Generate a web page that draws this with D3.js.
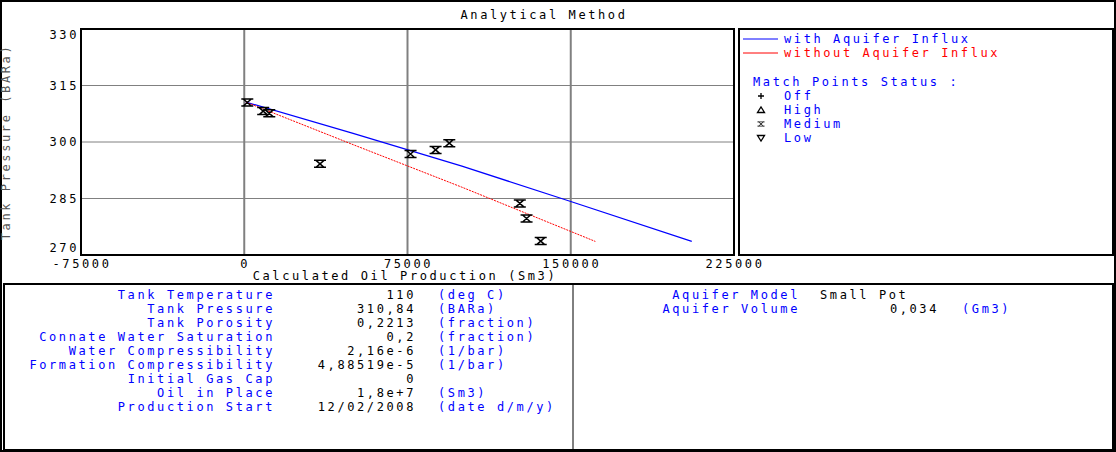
<!DOCTYPE html>
<html lang="en">
<head>
<meta charset="UTF-8">
<title>Analytical Method</title>
<script src="https://d3js.org/d3.v7.min.js"></script>
<style>
  body { margin: 0; background: #fff; }
  text { font-family: "DejaVu Sans Mono", monospace; font-size: 12px; letter-spacing: 2.6px; }
</style>
</head>
<body>
<div id="chart"></div>
<script>
// Match points (Sm3, BARa)
const pointProd = [1400, 8700, 11500, 34800, 76400, 87900, 94200, 126600, 129700, 136200];
const pointPres = [310.5, 308.2, 307.6, 294.2, 296.8, 297.9, 299.7, 283.7, 279.7, 273.7];
// Simulated curves
const withProd = [700, 50000, 100000, 150000, 205600];
const withPres = [310.6, 302.3, 293.6, 284.2, 273.6];
const withoutProd = [700, 50000, 100000, 161300];
const withoutPres = [310.6, 299.3, 288.0, 273.6];
const xTicks = [-75000, 0, 75000, 150000, 225000];
const yTicks = [270, 285, 300, 315, 330];

const params = [
  ["Tank Temperature", "110", "(deg C)"],
  ["Tank Pressure", "310,84", "(BARa)"],
  ["Tank Porosity", "0,2213", "(fraction)"],
  ["Connate Water Saturation", "0,2", "(fraction)"],
  ["Water Compressibility", "2,16e-6", "(1/bar)"],
  ["Formation Compressibility", "4,88519e-5", "(1/bar)"],
  ["Initial Gas Cap", "0", ""],
  ["Oil in Place", "1,8e+7", "(Sm3)"],
  ["Production Start", "12/02/2008", "(date d/m/y)"]
];
const statusNames = ["Off", "High", "Medium", "Low"];

const W = 1116, H = 452;
const svg = d3.select("#chart").append("svg").attr("width", W).attr("height", H);
svg.append("rect").attr("x", 1).attr("y", 1).attr("width", W - 2).attr("height", H - 2)
  .attr("fill", "none").attr("stroke", "#000").attr("stroke-width", 2);

svg.append("text").attr("x", 544).attr("y", 19).attr("text-anchor", "middle").text("Analytical Method");

const plot = { left: 81, right: 734, top: 29, bottom: 255 };
const x = d3.scaleLinear().domain([-75000, 225000]).range([plot.left, plot.right]);
const y = d3.scaleLinear().domain([270, 330]).range([plot.bottom, plot.top]);

// grid
svg.append("g").selectAll("line").data(xTicks.slice(1, -1)).enter().append("line")
  .attr("x1", d => x(d)).attr("x2", d => x(d)).attr("y1", plot.top).attr("y2", plot.bottom)
  .attr("stroke", "#808080").attr("stroke-width", 2);
svg.append("g").selectAll("line").data(yTicks.slice(1, -1)).enter().append("line")
  .attr("x1", plot.left).attr("x2", plot.right).attr("y1", d => y(d)).attr("y2", d => y(d))
  .attr("stroke", "#808080").attr("stroke-width", 1);
svg.append("rect").attr("x", plot.left).attr("y", plot.top)
  .attr("width", plot.right - plot.left).attr("height", plot.bottom - plot.top)
  .attr("fill", "none").attr("stroke", "#000").attr("stroke-width", 2);

// tick labels
svg.append("g").selectAll("text").data(xTicks).enter().append("text")
  .attr("x", d => x(d) + 1).attr("y", 268).attr("text-anchor", "middle").text(d => d);
svg.append("g").selectAll("text").data(yTicks).enter().append("text")
  .attr("x", 79).attr("y", d => y(d) + (d === 330 ? 10 : d === 270 ? -3 : 4))
  .attr("text-anchor", "end").text(d => d);

svg.append("text").attr("x", 405).attr("y", 280).attr("text-anchor", "middle").text("Calculated Oil Production (Sm3)");
svg.append("text").attr("transform", "translate(10,142) rotate(-90)").attr("text-anchor", "middle")
  .attr("fill", "#555").text("Tank Pressure (BARa)");

// curves
const line = d3.line().x(d => x(d[0])).y(d => y(d[1]));
svg.append("path").datum(d3.zip(withProd, withPres)).attr("d", line)
  .attr("fill", "none").attr("stroke", "#0000ff").attr("stroke-width", 1.2);
svg.append("path").datum(d3.zip(withoutProd, withoutPres)).attr("d", line)
  .attr("fill", "none").attr("stroke", "#ff0000").attr("stroke-width", 1).attr("stroke-dasharray", "2,1");

// match point markers (medium)
const marker = "M-6,-3.5H6M-6,3.5H6M-4,-3.5L4,3.5M4,-3.5L-4,3.5";
svg.append("g").selectAll("path").data(d3.zip(pointProd, pointPres)).enter().append("path")
  .attr("transform", d => `translate(${x(d[0])},${y(d[1])})`).attr("d", marker)
  .attr("stroke", "#000").attr("stroke-width", 1.5).attr("fill", "none");

// legend
svg.append("rect").attr("x", 739).attr("y", 29).attr("width", 374).attr("height", 226)
  .attr("fill", "none").attr("stroke", "#000").attr("stroke-width", 2);
[["with Aquifer Influx", "#0000ff", 39], ["without Aquifer Influx", "#ff0000", 53]].forEach(([t, c, yy]) => {
  svg.append("line").attr("x1", 743).attr("x2", 778).attr("y1", yy).attr("y2", yy).attr("stroke", c);
  svg.append("text").attr("x", 784).attr("y", yy + 4).attr("fill", c).text(t);
});
svg.append("text").attr("x", 753).attr("y", 86).attr("fill", "#0000ff").text("Match Points Status :");
const symbols = [
  "M-3,0H3M0,-3V3",
  "M-3.5,2.5H3.5L0,-3Z",
  marker,
  "M-3.5,-2.5H3.5L0,3Z"
];
statusNames.forEach((s, i) => {
  const yy = 96 + i * 14;
  svg.append("path").attr("transform", `translate(761,${yy})scale(${i === 2 ? 0.6 : 1})`)
    .attr("d", symbols[i]).attr("stroke", "#000").attr("stroke-width", 1.3).attr("fill", "none");
  svg.append("text").attr("x", 784).attr("y", yy + 4).attr("fill", "#0000ff").text(s);
});

// parameter panel
svg.append("rect").attr("x", 4).attr("y", 284).attr("width", 1109).attr("height", 166)
  .attr("fill", "none").attr("stroke", "#000").attr("stroke-width", 2);
svg.append("line").attr("x1", 573).attr("x2", 573).attr("y1", 284).attr("y2", 450).attr("stroke", "#000");
params.forEach((p, i) => {
  const yy = 299 + i * 14;
  svg.append("text").attr("x", 275).attr("y", yy).attr("text-anchor", "end").attr("fill", "#0000ff").text(p[0]);
  svg.append("text").attr("x", 416).attr("y", yy).attr("text-anchor", "end").attr("fill", "#000").text(p[1]);
  svg.append("text").attr("x", 438).attr("y", yy).attr("fill", "#0000ff").text(p[2]);
});
svg.append("text").attr("x", 800).attr("y", 299).attr("text-anchor", "end").attr("fill", "#0000ff").text("Aquifer Model");
svg.append("text").attr("x", 820).attr("y", 299).text("Small Pot");
svg.append("text").attr("x", 939).attr("y", 313).attr("text-anchor", "end").text("0,034");
svg.append("text").attr("x", 800).attr("y", 313).attr("text-anchor", "end").attr("fill", "#0000ff").text("Aquifer Volume");
svg.append("text").attr("x", 962).attr("y", 313).attr("fill", "#0000ff").text("(Gm3)");
</script>
</body>
</html>
